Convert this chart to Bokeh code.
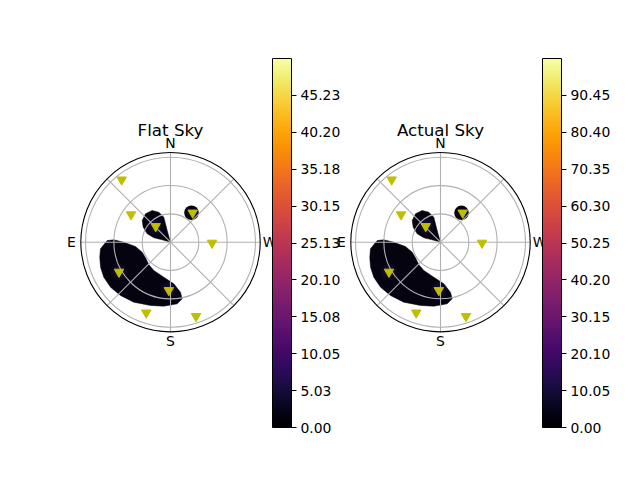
import numpy as np
from bokeh.plotting import figure
from bokeh.models import (ColorBar, LinearColorMapper, FixedTicker,
                          PrintfTickFormatter, Range1d)
from bokeh.palettes import Inferno256
from bokeh.core.properties import value
from bokeh.embed import file_html
from bokeh.resources import INLINE

# ---------------- data ----------------
TITLES = ["Flat Sky", "Actual Sky"]
CBAR_MAX = [50.256, 100.5]
FLAT_TICKS = [0.0, 5.0256, 10.0512, 15.0768, 20.1024, 25.128, 30.1536,
              35.1792, 40.2048, 45.2304]
ACTUAL_TICKS = [0.0, 10.05, 20.10, 30.15, 40.20, 50.25, 60.30, 70.35,
                80.40, 90.45]

# satellite positions (azimuth deg from N towards E, zenith angle deg)
SAT_AZ = [38, 55, 43, 323, 269, 120, 178, 161, 199]
SAT_ZEN = [84, 51, 23, 39, 44, 63, 51, 79, 83]
GLOW_IDX = [2, 5, 6]

# contour regions (azimuth, zenith)
BLOB_C_AZ = [95.4, 88.5, 87.6, 90.0, 97.0, 109.5, 122.0, 135.8, 149.5, 169.2,
             184.5, 191.3, 191.7, 186.2, 174.0, 162.5, 148.5, 136.8, 126.9,
             117.7, 109.7, 102.0]
BLOB_C_ZEN = [74.5, 67.1, 60.1, 49.5, 37.4, 31.8, 31.2, 33.0, 34.8, 37.7,
              44.2, 54.0, 61.2, 65.7, 68.1, 70.3, 74.5, 77.4, 79.4, 79.8,
              78.7, 76.6]
BLOB_A_AZ = [0, 73.9, 75.2, 70.2, 61.2, 52.5, 41.4, 30.0, 21.3, 15.0, 15.2, 15.8]
BLOB_A_ZEN = [0, 9.2, 18.3, 26.2, 33.0, 37.8, 40.1, 38.8, 34.1, 27.4, 20.2, 12.9]
BLOB_B_AZ = [324.5]
BLOB_B_ZEN = [38.3]
BLOB_B_RADIUS = [7.7]

# polar grid
RING_ZEN = [30, 60, 90]
SPOKE_AZ = [0, 45, 90, 135, 180, 225, 270, 315]
R_MAX = 95
DIR_LABELS = ["N", "E", "S", "W"]
DIR_AZ = [0, 90, 180, 270]
DIR_R = 105
TITLE_R = 119

FONT = value("DejaVu Sans")
PX_PER_DEG = 0.9442

# layout (pixels)
FRAME_L, FRAME_W, FRAME_T, FRAME_H = 56, 560, 58, 369
CENTERS_X = [170, 440]
CENTER_Y = 241.7
CBAR_X = [272, 542]


def to_xy(az, zen):
    a = np.radians(np.asarray(az, dtype=float))
    z = np.asarray(zen, dtype=float)
    return -z * np.sin(a), z * np.cos(a)


def x_range_for(cx):
    return Range1d((FRAME_L - cx) / PX_PER_DEG,
                   (FRAME_L + FRAME_W - cx) / PX_PER_DEG)


p = figure(width=624, height=464, frame_width=FRAME_W, frame_height=FRAME_H,
           x_range=x_range_for(CENTERS_X[0]),
           y_range=Range1d((CENTER_Y - FRAME_T - FRAME_H) / PX_PER_DEG,
                           (CENTER_Y - FRAME_T) / PX_PER_DEG),
           min_border_left=FRAME_L, min_border_right=624 - FRAME_L - FRAME_W,
           min_border_top=FRAME_T, min_border_bottom=464 - FRAME_T - FRAME_H,
           x_axis_location=None, y_axis_location=None,
           toolbar_location=None, output_backend="svg")
p.extra_x_ranges = {"right": x_range_for(CENTERS_X[1])}
p.grid.visible = False
p.outline_line_color = None
p.background_fill_color = "white"
p.border_fill_color = "white"

BLOB_COLOR = "#04030f"

for i, rname in enumerate(["default", "right"]):
    kw = dict(x_range_name=rname)

    # contour regions
    cx, cy = to_xy(BLOB_C_AZ, BLOB_C_ZEN)
    ax_, ay_ = to_xy(BLOB_A_AZ, BLOB_A_ZEN)
    p.patches(xs=[list(cx), list(ax_)], ys=[list(cy), list(ay_)],
              fill_color=BLOB_COLOR, line_color=BLOB_COLOR, line_width=0.5,
              **kw)
    bx, by = to_xy(BLOB_B_AZ, BLOB_B_ZEN)
    p.circle(x=bx, y=by, radius=BLOB_B_RADIUS, fill_color=BLOB_COLOR,
             line_color=None, **kw)
    gx, gy = to_xy([SAT_AZ[k] for k in GLOW_IDX], [SAT_ZEN[k] for k in GLOW_IDX])
    for rad in [9, 6, 3]:
        p.circle(x=gx, y=gy, radius=rad, fill_color="#2d1e66",
                 fill_alpha=0.2, line_color=None, **kw)

    # grid
    p.circle(x=[0] * len(RING_ZEN), y=[0] * len(RING_ZEN), radius=RING_ZEN,
             fill_color=None, line_color="#b0b0b0", line_width=1.1, **kw)
    sx, sy = to_xy(SPOKE_AZ, [R_MAX] * len(SPOKE_AZ))
    p.segment(x0=[0] * len(SPOKE_AZ), y0=[0] * len(SPOKE_AZ), x1=sx, y1=sy,
              line_color="#b0b0b0", line_width=1.1, **kw)
    p.circle(x=[0], y=[0], radius=[R_MAX], fill_color=None,
             line_color="black", line_width=1.1, **kw)

    # satellites
    mx, my = to_xy(SAT_AZ, SAT_ZEN)
    p.scatter(x=mx, y=my, marker="inverted_triangle", size=9.5,
              fill_color="#bfbf00", line_color="#bfbf00", **kw)

    # direction labels and title
    lx, ly = to_xy(DIR_AZ, [DIR_R] * len(DIR_AZ))
    p.text(x=lx, y=ly, text=DIR_LABELS, text_font=FONT,
           text_font_size="13.9px", text_align="center",
           text_baseline="middle", text_color="black", **kw)
    p.text(x=[0], y=[TITLE_R], text=[TITLES[i]], text_font=FONT,
           text_font_size="16.7px", text_align="center",
           text_baseline="middle", text_color="black", **kw)

for i in range(2):
    mapper = LinearColorMapper(palette=Inferno256, low=0, high=CBAR_MAX[i])
    ticks = FLAT_TICKS if i == 0 else ACTUAL_TICKS
    cb = ColorBar(color_mapper=mapper, ticker=FixedTicker(ticks=ticks),
                  formatter=PrintfTickFormatter(format="%.2f"),
                  location=(CBAR_X[i] - FRAME_L, 0),
                  width=19, height=FRAME_H, padding=0, margin=0,
                  major_tick_in=0, major_tick_out=5,
                  major_tick_line_color="black", minor_tick_out=0,
                  bar_line_color="black", bar_line_width=1,
                  label_standoff=4,
                  major_label_text_font="DejaVu Sans",
                  major_label_text_font_size="13.9px",
                  major_label_text_color="black",
                  background_fill_alpha=0, border_line_color=None)
    p.add_layout(cb)

open("out.html", "w").write(file_html(p, INLINE))
